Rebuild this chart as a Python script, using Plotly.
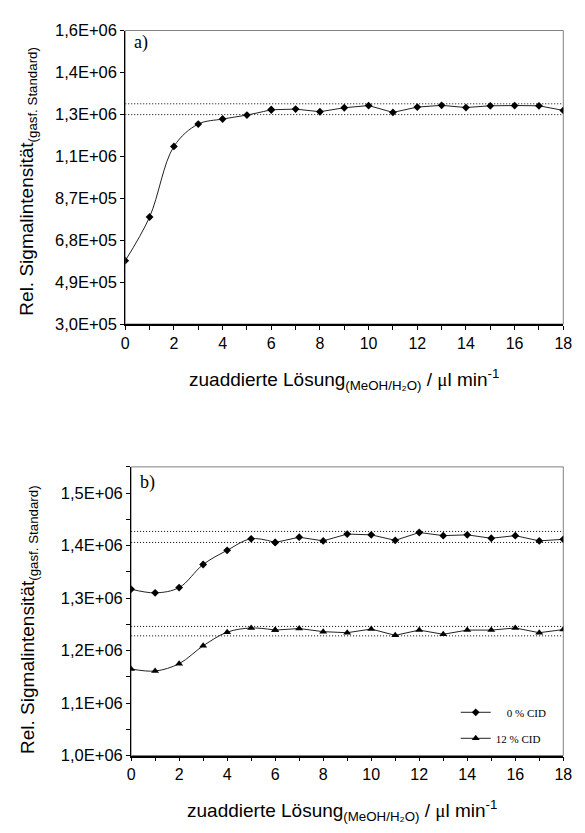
import plotly.graph_objects as go

# ---------------- data ----------------
x_vals = list(range(0, 19))

# panel a)
a_signal = [5.87e5, 7.85e5, 1.105e6, 1.206e6, 1.229e6, 1.247e6, 1.271e6, 1.274e6,
            1.262e6, 1.280e6, 1.290e6, 1.259e6, 1.283e6, 1.291e6, 1.281e6, 1.289e6,
            1.290e6, 1.289e6, 1.268e6]
a_band = [1.249e6, 1.298e6]
a_yticks = [3.0e5, 4.9e5, 6.8e5, 8.7e5, 1.06e6, 1.25e6, 1.44e6, 1.63e6]
a_yticktext = ["3,0E+05", "4,9E+05", "6,8E+05", "8,7E+05", "1,1E+06", "1,3E+06", "1,4E+06", "1,6E+06"]

# panel b)
b_cid0 = [1.317e6, 1.310e6, 1.320e6, 1.364e6, 1.391e6, 1.413e6, 1.406e6, 1.416e6,
          1.409e6, 1.422e6, 1.4205e6, 1.410e6, 1.425e6, 1.419e6, 1.4205e6, 1.414e6,
          1.419e6, 1.409e6, 1.412e6]
b_cid12 = [1.165e6, 1.161e6, 1.175e6, 1.209e6, 1.235e6, 1.243e6, 1.239e6, 1.242e6,
           1.236e6, 1.234e6, 1.241e6, 1.229e6, 1.239e6, 1.231e6, 1.239e6, 1.239e6,
           1.243e6, 1.234e6, 1.240e6]
b_band0 = [1.406e6, 1.427e6]
b_band12 = [1.228e6, 1.246e6]
b_yticks = [1.0e6, 1.1e6, 1.2e6, 1.3e6, 1.4e6, 1.5e6]
b_yticktext = ["1,0E+06", "1,1E+06", "1,2E+06", "1,3E+06", "1,4E+06", "1,5E+06"]

x_ticks = list(range(0, 19, 2))
series_names = ["0 % CID", "12 % CID"]
SPLIT = 6  # smoothed part up to this index, straight segments afterwards

# ---------------- figure ----------------
W, H = 585, 833
SANS = "Liberation Sans, Arial, sans-serif"
SERIF = "Liberation Serif, Times New Roman, serif"
LINE = "#222222"
DOT = "1px,2px"

fig = go.Figure()


def add_series(xa, ya, y, symbol, size, name, legend, group):
    fig.add_trace(go.Scatter(x=x_vals[:SPLIT + 1], y=y[:SPLIT + 1], xaxis=xa, yaxis=ya,
                             mode="lines+markers", line=dict(color=LINE, width=1, shape="spline", smoothing=1.0),
                             marker=dict(symbol=symbol, size=size, color="black"),
                             showlegend=False, hoverinfo="skip", legendgroup=group))
    fig.add_trace(go.Scatter(x=x_vals[SPLIT:], y=y[SPLIT:], xaxis=xa, yaxis=ya,
                             mode="lines+markers", line=dict(color=LINE, width=1),
                             marker=dict(symbol=symbol, size=size, color="black"),
                             name=name, showlegend=legend, legendgroup=group))


def add_band(xa, ya, band):
    for v in band:
        fig.add_trace(go.Scatter(x=[x_vals[0], x_vals[-1]], y=[v, v], xaxis=xa, yaxis=ya,
                                 mode="lines", line=dict(color="black", width=1, dash=DOT),
                                 showlegend=False, hoverinfo="skip"))


add_band("x", "y", a_band)
add_series("x", "y", a_signal, "diamond", 6, "a", False, "a")

add_band("x2", "y2", b_band0)
add_band("x2", "y2", b_band12)
add_series("x2", "y2", b_cid0, "diamond", 6, "\u00a0\u00a0\u00a0\u00a0" + series_names[0], True, "g0")
add_series("x2", "y2", b_cid12, "triangle-up", 7, series_names[1], True, "g1")

# plot area positions (pixels)
a_left, a_right, a_top, a_bot = 124, 572, 22, 322
b_left, b_right, b_top, b_bot = 130, 572, 468, 763


def px(xp):
    return xp / W


def py(yp):
    return 1 - yp / H


xaxis_common = dict(range=[0, 18], tickvals=x_ticks, ticks="outside", ticklen=4, tickcolor="black",
                    showline=True, linecolor="black", linewidth=1.5, showgrid=False, zeroline=False,
                    tickfont=dict(family=SANS, size=16, color="black"),
                    minor=dict(dtick=1, tick0=0, ticks="outside", ticklen=4, tickcolor="black"))
yaxis_common = dict(ticks="outside", ticklen=4, tickcolor="black", showline=True, linecolor="black",
                    linewidth=1, showgrid=False, zeroline=False,
                    tickfont=dict(family=SANS, size=16.5, color="black"))

fig.update_layout(
    width=W, height=H, margin=dict(l=0, r=0, t=0, b=0),
    paper_bgcolor="white", plot_bgcolor="white",
    xaxis=dict(domain=[px(a_left), px(a_right)], anchor="y", **xaxis_common),
    yaxis=dict(domain=[py(a_bot), py(a_top)], anchor="x", range=[3.0e5, 1.63e6],
               tickvals=a_yticks, ticktext=a_yticktext, **yaxis_common),
    xaxis2=dict(domain=[px(b_left), px(b_right)], anchor="y2", **xaxis_common),
    yaxis2=dict(domain=[py(b_bot), py(b_top)], anchor="x2", range=[1.0e6, 1.55e6],
                tickvals=b_yticks, ticktext=b_yticktext,
                minor=dict(dtick=5e4, tick0=1.0e6, ticks="outside", ticklen=4, tickcolor="black"),
                **yaxis_common),
    legend=dict(x=px(462), y=py(704), xanchor="left", yanchor="top", bgcolor="rgba(0,0,0,0)",
                font=dict(family=SERIF, size=11, color="black"), tracegroupgap=7, itemwidth=30),
    showlegend=True,
)

# plot-area frames (gray top/right border)
for (l, r, t, b) in [(a_left, a_right, a_top, a_bot), (b_left, b_right, b_top, b_bot)]:
    fig.add_shape(type="rect", xref="paper", yref="paper", x0=px(l), x1=px(r), y0=py(b), y1=py(t),
                  line=dict(color="#808080", width=1), layer="below")

xtitle = ("zuaddierte Lösung<sub>(MeOH/H₂O)</sub> / "
          "<span style='font-family:Liberation Serif, Times New Roman, serif'>μ</span>l min<sup>-1</sup>")
ytitle = "Rel. Sigmalintensität<sub>(gasf. Standard)</sub>"

annotations = [
    dict(text=xtitle, x=px(348), y=py(379), xanchor="center", yanchor="middle"),
    dict(text=xtitle, x=px(346), y=py(819), xanchor="center", yanchor="middle"),
    dict(text=ytitle, x=px(25), y=py(176), xanchor="center", yanchor="middle", textangle=-90),
    dict(text=ytitle, x=px(25), y=py(624), xanchor="center", yanchor="middle", textangle=-90),
]
for ann in annotations:
    fig.add_annotation(xref="paper", yref="paper", showarrow=False,
                       font=dict(family=SANS, size=19, color="black"), **ann)

fig.add_annotation(xref="paper", yref="paper", x=px(131), y=py(34), text="a)", showarrow=False,
                   xanchor="left", yanchor="middle", font=dict(family=SERIF, size=18, color="black"))
fig.add_annotation(xref="paper", yref="paper", x=px(137), y=py(484), text="b)", showarrow=False,
                   xanchor="left", yanchor="middle", font=dict(family=SERIF, size=18, color="black"))

fig.write_html("out.html")
